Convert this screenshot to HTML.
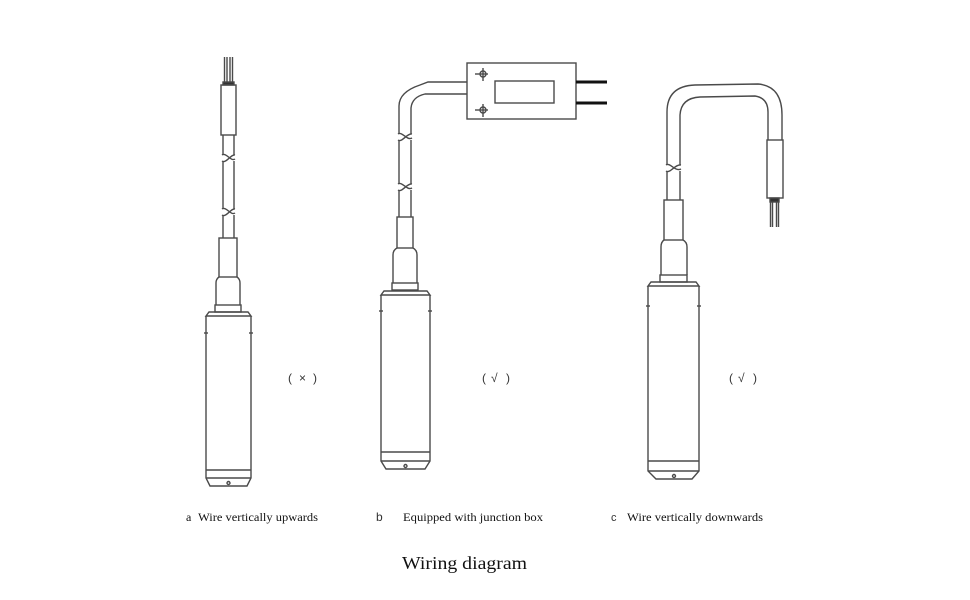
<!DOCTYPE html>
<html>
<head>
<meta charset="utf-8">
<style>
html,body{margin:0;padding:0;background:#fff;}
svg{display:block;}
.l{fill:none;stroke:#4a4a4a;stroke-width:1.4;}
.t{font-family:"Liberation Serif",serif;fill:#111;}
.c{font-family:"Liberation Sans","Noto Sans CJK SC",sans-serif;fill:#333;}
</style>
</head>
<body>
<svg width="970" height="600" viewBox="0 0 970 600" xmlns="http://www.w3.org/2000/svg">
<rect width="970" height="600" fill="#fff"/>

<!-- ===== Device A ===== -->
<g class="l">
  <line x1="224.5" y1="57" x2="224.5" y2="84"/>
  <line x1="227" y1="57" x2="227" y2="84"/>
  <line x1="230" y1="57" x2="230" y2="84"/>
  <line x1="232.5" y1="57" x2="232.5" y2="84"/>
  <rect x="223" y="82" width="11" height="3" fill="#333"/>
  <rect x="221" y="85" width="15" height="50"/>
  <line x1="223" y1="135" x2="223" y2="155"/>
  <line x1="234" y1="135" x2="234" y2="155"/>
  <path d="M222,155 C226,152 231,162 235,159 M222,161 C226,164 231,154 235,155"/>
  <line x1="223" y1="161" x2="223" y2="209"/>
  <line x1="234" y1="161" x2="234" y2="209"/>
  <path d="M222,209 C226,206 231,216 235,213 M222,215 C226,218 231,208 235,209"/>
  <line x1="223" y1="215" x2="223" y2="238"/>
  <line x1="234" y1="215" x2="234" y2="238"/>
  <rect x="219" y="238" width="18" height="39"/>
  <path d="M219,277 Q216,279 216,283 L216,305 M237,277 Q240,279 240,283 L240,305"/>
  <rect x="215" y="305" width="26" height="7"/>
  <path d="M206,316 L209,312 L248,312 L251,316 Z"/>
  <path d="M206,316 L206,478 L210,486 L247,486 L251,478 L251,316"/>
  <line x1="206" y1="470" x2="251" y2="470"/>
  <line x1="206" y1="478" x2="251" y2="478"/>
  <circle cx="228.5" cy="483" r="1.5"/>
  <line x1="204" y1="333" x2="208" y2="333"/>
  <line x1="249" y1="333" x2="253" y2="333"/>
</g>
<text class="c" x="288" y="382" font-size="12">(</text>
<text class="c" x="299" y="382" font-size="12">×</text>
<text class="c" x="313" y="382" font-size="12">)</text>

<!-- ===== Device B ===== -->
<g class="l">
  <rect x="467" y="63" width="109" height="56"/>
  <rect x="495" y="81" width="59" height="22"/>
  <circle cx="483" cy="74" r="3"/>
  <line x1="475" y1="74" x2="488" y2="74"/>
  <line x1="483" y1="68" x2="483" y2="81"/>
  <circle cx="483" cy="110" r="3"/>
  <line x1="475" y1="110" x2="488" y2="110"/>
  <line x1="483" y1="104" x2="483" y2="117"/>
  <path d="M467,82 L428,82 L420,85 Q399,92 399,106 L399,134"/>
  <path d="M467,94 L425,94 Q412,97 411,108 L411,134"/>
  <path d="M398,134 C402,131 407,141 412,138 M398,140 C402,143 407,133 412,134"/>
  <line x1="399" y1="140" x2="399" y2="184"/>
  <line x1="411" y1="140" x2="411" y2="184"/>
  <path d="M398,184 C402,181 407,191 412,188 M398,190 C402,193 407,183 412,184"/>
  <line x1="399" y1="190" x2="399" y2="217"/>
  <line x1="411" y1="190" x2="411" y2="217"/>
  <rect x="397" y="217" width="16" height="31"/>
  <path d="M397,248 Q393,250 393,255 L393,283 M413,248 Q417,250 417,255 L417,283"/>
  <rect x="392" y="283" width="26" height="7"/>
  <path d="M381,295 L384,291 L427,291 L430,295 Z"/>
  <path d="M381,295 L381,461 L386,469 L425,469 L430,461 L430,295"/>
  <line x1="381" y1="452" x2="430" y2="452"/>
  <line x1="381" y1="461" x2="430" y2="461"/>
  <circle cx="405.5" cy="466" r="1.5"/>
  <line x1="379" y1="311" x2="383" y2="311"/>
  <line x1="428" y1="311" x2="432" y2="311"/>
</g>
<line x1="576" y1="82" x2="607" y2="82" stroke="#111" stroke-width="3"/>
<line x1="576" y1="103" x2="607" y2="103" stroke="#111" stroke-width="3"/>
<text class="c" x="482" y="382" font-size="12">(</text>
<text class="c" x="491" y="382" font-size="12">√</text>
<text class="c" x="506" y="382" font-size="12">)</text>

<!-- ===== Device C ===== -->
<g class="l">
  <path d="M667,165 L667,112 Q667,86 695,85 L758,84 Q782,86 782,115 L782,140"/>
  <path d="M680,165 L680,115 Q681,98 700,97 L755,96 Q768,98 768,112 L768,140"/>
  <path d="M666,165 C670,162 675,172 681,169 M666,171 C670,174 675,164 681,165"/>
  <line x1="667" y1="171" x2="667" y2="200"/>
  <line x1="680" y1="171" x2="680" y2="200"/>
  <rect x="767" y="140" width="16" height="58"/>
  <rect x="770" y="198" width="9" height="4" fill="#333"/>
  <line x1="770.5" y1="202" x2="770.5" y2="227"/>
  <line x1="772.5" y1="202" x2="772.5" y2="227"/>
  <line x1="776.5" y1="202" x2="776.5" y2="227"/>
  <line x1="778.5" y1="202" x2="778.5" y2="227"/>
  <rect x="664" y="200" width="19" height="40"/>
  <path d="M664,240 Q661,242 661,247 L661,275 M683,240 Q687,242 687,247 L687,275"/>
  <rect x="660" y="275" width="27" height="7"/>
  <path d="M648,286 L651,282 L696,282 L699,286 Z"/>
  <path d="M648,286 L648,471 L656,479 L692,479 L699,471 L699,286"/>
  <line x1="648" y1="461" x2="699" y2="461"/>
  <line x1="648" y1="471" x2="699" y2="471"/>
  <circle cx="674" cy="476" r="1.5"/>
  <line x1="646" y1="306" x2="650" y2="306"/>
  <line x1="697" y1="306" x2="701" y2="306"/>
</g>
<text class="c" x="729" y="382" font-size="12">(</text>
<text class="c" x="738" y="382" font-size="12">√</text>
<text class="c" x="753" y="382" font-size="12">)</text>

<!-- ===== Labels ===== -->
<text class="t" x="186" y="521" font-size="12">a</text>
<text class="t" x="198" y="521" font-size="12" textLength="120" lengthAdjust="spacingAndGlyphs">Wire vertically upwards</text>
<text class="c" x="376" y="521" font-size="12">b</text>
<text class="t" x="403" y="521" font-size="12" textLength="140" lengthAdjust="spacingAndGlyphs">Equipped with junction box</text>
<text class="c" x="611" y="521" font-size="11">c</text>
<text class="t" x="627" y="521" font-size="12" textLength="136" lengthAdjust="spacingAndGlyphs">Wire vertically downwards</text>

<text class="t" x="402" y="569" font-size="18" textLength="125" lengthAdjust="spacingAndGlyphs">Wiring diagram</text>
</svg>
</body>
</html>
